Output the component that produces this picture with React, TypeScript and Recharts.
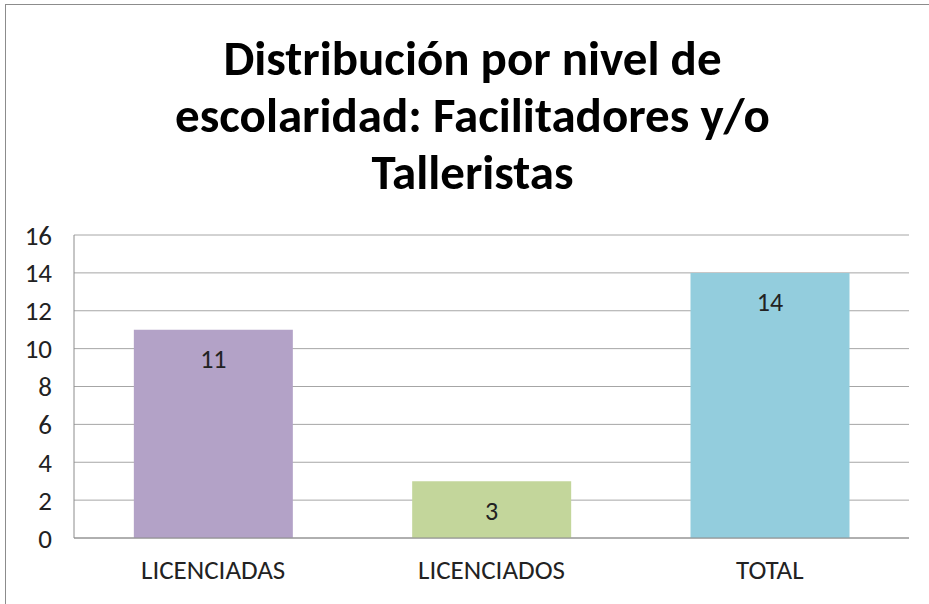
import { BarChart, Bar, Cell, XAxis, YAxis, CartesianGrid, LabelList } from 'recharts';

const categories = ['LICENCIADAS', 'LICENCIADOS', 'TOTAL'];
const values = [11, 3, 14];
const barColors = ['#B3A2C7', '#C3D69B', '#93CDDD'];
const yTicks = [0, 2, 4, 6, 8, 10, 12, 14, 16];
const titleLines = ['Distribución por nivel de', 'escolaridad: Facilitadores y/o', 'Talleristas'];

const FONT = "Carlito, Calibri, 'Open Sans', 'Liberation Sans', sans-serif";

export default function App() {
  const data = categories.map((name, i) => ({ name, value: values[i] }));

  return (
    <div style={{ position: 'fixed', left: 0, top: 0, width: 929, height: 604, background: '#fff', overflow: 'hidden', fontFamily: FONT }}>
      <div style={{ position: 'absolute', left: 5, top: 4, width: 940, height: 620, border: '1px solid #8c8c8c', boxSizing: 'border-box' }} />
      <div style={{ position: 'absolute', left: 8, top: 30, width: 929, textAlign: 'center', fontWeight: 'bold', fontSize: 49, lineHeight: '57px', color: '#000' }}>
        {titleLines.map(l => <div key={l}>{l}</div>)}
      </div>
      <div style={{ position: 'absolute', left: 0, top: 0 }}>
        <BarChart width={929} height={604} data={data} margin={{ top: 235, right: 20, bottom: 0, left: 0 }} barCategoryGap="21.5%">
          <CartesianGrid vertical={false} stroke="#a6a6a6" strokeWidth={1} />
          <XAxis
            dataKey="name" height={66} tickLine={false} axisLine={{ stroke: '#8c8c8c' }}
            tick={{ fill: '#222', fontSize: 27, fontFamily: FONT }} tickMargin={16}
          />
          <YAxis
            width={74} domain={[0, 16]} ticks={yTicks} interval={0} tickLine={false}
            axisLine={{ stroke: '#8c8c8c' }} tick={{ fill: '#222', fontSize: 27, fontFamily: FONT }} tickMargin={16}
          />
          <Bar dataKey="value" isAnimationActive={false}>
            {data.map((d, i) => <Cell key={d.name} fill={barColors[i]} />)}
            <LabelList dataKey="value" position="insideTop" offset={20} fill="#222" fontSize={26} fontFamily={FONT} />
          </Bar>
        </BarChart>
      </div>
    </div>
  );
}
